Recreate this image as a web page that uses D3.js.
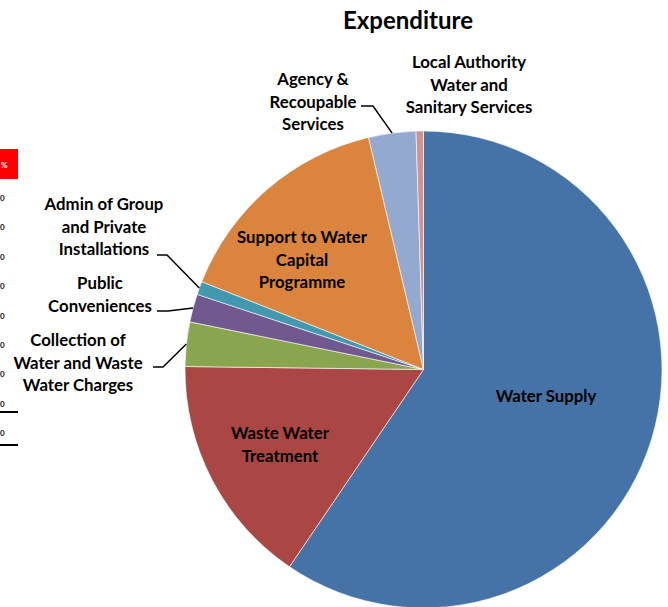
<!DOCTYPE html>
<html>
<head>
<meta charset="utf-8">
<script src="https://cdn.jsdelivr.net/npm/d3@7"></script>
<style>
  html, body { margin: 0; padding: 0; background: #fff; }
  svg { display: block; font-family: Lato, "Open Sans", sans-serif; font-weight: bold; }
</style>
</head>
<body>
<svg id="chart" width="668" height="607"></svg>
<script>
// slices in clockwise order from 12 o'clock (share of total, %)
const categories = [
    "Water Supply",
    "Waste Water Treatment",
    "Collection of Water and Waste Water Charges",
    "Public Conveniences",
    "Admin of Group and Private Installations",
    "Support to Water Capital Programme",
    "Agency & Recoupable Services",
    "Local Authority Water and Sanitary Services"
];
const values = [59.5, 15.7, 3.0, 1.9, 0.9, 15.3, 3.2, 0.5];
const colors = ["#4572A7", "#AA4643", "#89A54E", "#71588F", "#4198AF", "#DB843D", "#93A9CF", "#D19392"];

// how each label is broken into lines
const labelLines = [
    ["Water Supply"],
    ["Waste Water", "Treatment"],
    ["Collection of", "Water and Waste", "Water Charges"],
    ["Public", "Conveniences"],
    ["Admin of Group", "and Private", "Installations"],
    ["Support to Water", "Capital", "Programme"],
    ["Agency &", "Recoupable", "Services"],
    ["Local Authority", "Water and", "Sanitary Services"]
];

// what is left of a table on the left edge of the picture
const tableRows = ["0", "0", "0", "0", "0", "0", "0", "0", "0"];

function drawPie() {
    const svg = d3.select("#chart");
    const cx = 423.5, cy = 369.5, radius = 238.5;

    // table remnant
    svg.append("rect").attr("x", 0).attr("y", 149).attr("width", 18).attr("height", 30).attr("fill", "#FF0000");
    svg.append("text").attr("x", 1).attr("y", 168)
        .attr("fill", "#fff").style("font-size", "8px").text("%");
    const rowY = d3.scalePoint().domain(d3.range(tableRows.length)).range([201, 436]);
    svg.selectAll(".row").data(tableRows).join("text")
        .attr("class", "row")
        .attr("x", 0).attr("y", (d, i) => rowY(i))
        .attr("fill", "#111").style("font-size", "8px")
        .text(d => d);
    svg.append("line").attr("x1", 0).attr("x2", 18).attr("y1", 412).attr("y2", 412).attr("stroke", "#000").attr("stroke-width", 2);
    svg.append("line").attr("x1", 0).attr("x2", 18).attr("y1", 445).attr("y2", 445).attr("stroke", "#000").attr("stroke-width", 2);

    // title
    svg.append("text").attr("x", 408).attr("y", 29).attr("text-anchor", "middle")
        .style("font-size", "24px").attr("fill", "#000").text("Expenditure");

    const g = svg.append("g").attr("transform", `translate(${cx},${cy})`);

    const pie = d3.pie().sort(null).value(d => d);
    const arcs = pie(values);
    const arc = d3.arc().innerRadius(0).outerRadius(radius);
    const edge = d3.arc().innerRadius(radius).outerRadius(radius);

    g.selectAll("path.slice").data(arcs).join("path")
        .attr("class", "slice")
        .attr("d", arc)
        .attr("fill", (d, i) => colors[i])
        .attr("stroke", "#fff")
        .attr("stroke-width", 0.6);

    // label centres (page coords) and leader line start
    const labelPos = [
        { x: 546, y: 396 },
        { x: 280, y: 433 },
        { x: 78, y: 340 },
        { x: 100, y: 283 },
        { x: 104, y: 204 },
        { x: 302, y: 237 },
        { x: 313, y: 79 },
        { x: 469, y: 62 }
    ];
    const leaders = [
        null,
        null,
        { x0: 153, x1: 163, y: 367 },
        { x0: 157, x1: 168, y: 311 },
        { x0: 157, x1: 167, y: 255 },
        null,
        { x0: 361, x1: 373, y: 106 },
        null
    ];
    const lineH = 22.5;

    arcs.forEach((a, i) => {
        const lines = labelLines[i];
        const p = labelPos[i];
        svg.append("text")
            .attr("text-anchor", "middle")
            .attr("fill", "#000")
            .style("font-size", "16.8px")
            .selectAll("tspan").data(lines).join("tspan")
            .attr("x", p.x)
            .attr("y", (d, j) => p.y + j * lineH + 6)
            .text(d => d);

        const l = leaders[i];
        if (l) {
            const [ex, ey] = edge.centroid(a);
            svg.append("path")
                .attr("d", d3.line()([[l.x0, l.y], [l.x1, l.y], [cx + ex, cy + ey]]))
                .attr("fill", "none")
                .attr("stroke", "#000")
                .attr("stroke-width", 1.5);
        }
    });
}

drawPie();
</script>
</body>
</html>
